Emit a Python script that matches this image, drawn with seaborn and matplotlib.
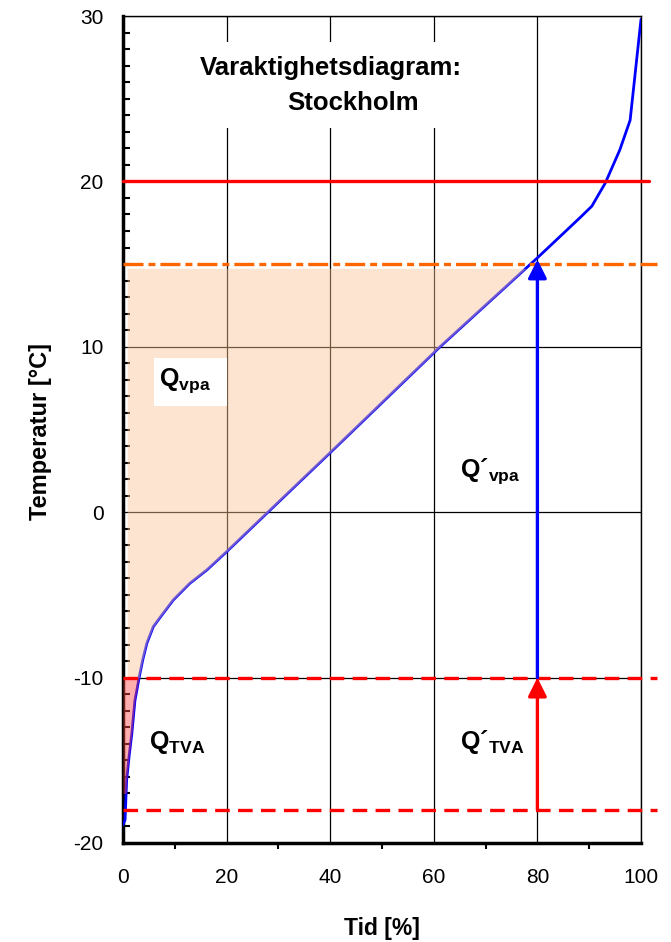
import numpy as np
import pandas as pd
import seaborn as sns
import matplotlib
matplotlib.use("Agg")
import matplotlib.pyplot as plt
from matplotlib.patches import Rectangle
from matplotlib.ticker import MultipleLocator

# ---- data ----
tid = [0.0, 0.4, 0.7, 1.2, 1.7, 2.3, 3.15, 3.8, 4.6, 5.85, 7.5, 9.7, 12.9,
       16.2, 20.0, 26.4, 40.0, 61.2, 79.9, 88.2, 90.5, 93.1, 95.9, 97.9, 100.0]
temp = [-18.9, -18.6, -16.2, -14.7, -13.4, -11.4, -9.94, -8.94, -7.93, -6.92,
        -6.22, -5.31, -4.30, -3.49, -2.39, -0.47, 3.6, 10.0, 15.35, 17.8, 18.5,
        19.9, 21.9, 23.7, 29.8]
x_ticks = [0, 20, 40, 60, 80, 100]
y_ticks = [-20, -10, 0, 10, 20, 30]
t_inne = 20       # solid red line
t_vpa = 15        # orange dash-dot line
t_tva = -10       # red dashed line
t_dut = -18       # red dashed line (DUT)
tid_pump = 80     # position of arrows
fill_top = 14.75
fill_red_bottom = -17.0
title_lines = ["Varaktighetsdiagram:", "Stockholm"]

sns.set_theme(style="white")
plt.rcParams['font.family'] = ['Liberation Sans', 'DejaVu Sans']
plt.rcParams['mathtext.fontset'] = 'custom'
plt.rcParams['mathtext.bf'] = 'Liberation Sans:bold'
plt.rcParams['mathtext.rm'] = 'Liberation Sans'
plt.rcParams['mathtext.it'] = 'Liberation Sans:italic'
plt.rcParams['lines.scale_dashes'] = False
plt.rcParams['axes.unicode_minus'] = False
plt.rcParams['text.color'] = 'black'
plt.rcParams['axes.labelcolor'] = 'black'

fig = plt.figure(figsize=(6.71, 9.42), dpi=100)
ax = fig.add_axes([0.1833, 0.1051, 0.7720, 0.8779])

df = pd.DataFrame({"Tid": tid, "Temp": temp})
sns.lineplot(data=df, x="Tid", y="Temp", color="#0000FF", lw=2.0, ax=ax,
             sort=False, zorder=2.6)

ax.set_xlim(0, 100)
ax.set_ylim(-20, 30)
ax.set_xticks(x_ticks)
ax.set_yticks(y_ticks)
ax.xaxis.set_minor_locator(MultipleLocator(10))
ax.yaxis.set_minor_locator(MultipleLocator(1))
ax.set_axisbelow(True)
ax.grid(True, which='major', color='black', lw=0.9)

for s in ['left', 'bottom']:
    ax.spines[s].set_linewidth(2.5)
    ax.spines[s].set_color('black')
for s in ['top', 'right']:
    ax.spines[s].set_linewidth(1.0)
    ax.spines[s].set_color('black')

ax.tick_params(axis='both', which='major', direction='out', length=8, width=2,
               color='black', labelsize=15, labelcolor='black')
ax.tick_params(axis='y', which='major', pad=6)
ax.tick_params(axis='x', which='major', pad=10)
ax.tick_params(axis='y', which='minor', direction='in', length=5, width=1.5,
               color='black', left=True)
ax.tick_params(axis='x', which='minor', direction='out', length=4, width=1.5,
               color='black', bottom=True)

# filled areas
ys = np.unique(np.concatenate([[t_tva, fill_top],
                               [t for t in temp if t_tva < t < fill_top]]))
xs = np.interp(ys, temp, tid)
ax.fill_betweenx(ys, 0.8, xs, color='#FBC597', alpha=0.45, lw=0, zorder=3)

ys2 = np.unique(np.concatenate([[fill_red_bottom, t_tva],
                                [t for t in temp if fill_red_bottom < t < t_tva]]))
xs2 = np.interp(ys2, temp, tid)
ax.fill_betweenx(ys2, 0, xs2, color='#FF4A4A', alpha=0.45, lw=0, zorder=3)

# horizontal reference lines
ax.plot([0, 101.5], [t_inne, t_inne], color='#FF0000', lw=2.4, clip_on=False, zorder=4)
l1, = ax.plot([0, 103], [t_vpa, t_vpa], color='#FF6600', lw=2.4, clip_on=False, zorder=4)
l1.set_dashes([14.4, 3.6, 5, 3.6])
for yv in [t_tva, t_dut]:
    l, = ax.plot([0, 103], [yv, yv], color='#FF0000', lw=2.4, clip_on=False, zorder=4)
    l.set_dashes([10.5, 6])

# arrows
t_at_pump = float(np.interp(tid_pump, tid, temp))
ax.annotate('', xy=(tid_pump, t_at_pump - 0.1), xytext=(tid_pump, t_tva),
            arrowprops=dict(arrowstyle='-|>', color='#0000FF', lw=2.4,
                            mutation_scale=28, shrinkA=0, shrinkB=0), zorder=5)
ax.annotate('', xy=(tid_pump, t_tva), xytext=(tid_pump, t_dut),
            arrowprops=dict(arrowstyle='-|>', color='#FF0000', lw=2.4,
                            mutation_scale=28, shrinkA=0, shrinkB=0), zorder=5)

# title box and text
ax.add_patch(Rectangle((15, 23.2), 52, 5.25, facecolor='white', edgecolor='none', zorder=1))
ax.text(40.06, 26.43, title_lines[0], ha='center', va='baseline', fontsize=18.5,
        fontweight='bold', zorder=6)
ax.text(44.4, 24.32, title_lines[1], ha='center', va='baseline', fontsize=18.5,
        fontweight='bold', zorder=6)

# labels Q
ax.add_patch(Rectangle((5.9, 6.4), 14.1, 2.9, facecolor='white', edgecolor='none', zorder=4))
ax.text(7.0, 7.65, r'$\mathbf{Q}_{\mathbf{vpa}}$', fontsize=18, ha='left', va='baseline', zorder=6)
ax.text(5.1, -14.3, r'$\mathbf{Q}_{\mathbf{TVA}}$', fontsize=18, ha='left', va='baseline', zorder=6)
ax.text(65.1, 2.13, '$\\mathbf{Q´}_{\\mathbf{vpa}}$', fontsize=18,
        ha='left', va='baseline', zorder=6)
ax.text(65.1, -14.3, '$\\mathbf{Q´}_{\\mathbf{TVA}}$', fontsize=18,
        ha='left', va='baseline', zorder=6)

ax.set_xlabel('Tid [%]', fontsize=16.5, fontweight='bold')
ax.set_ylabel('Temperatur [°C]', fontsize=17, fontweight='bold')
ax.xaxis.set_label_coords(0.5, -0.089)
ax.yaxis.set_label_coords(-0.137, 0.497)

fig.savefig('out.png', dpi=100)
